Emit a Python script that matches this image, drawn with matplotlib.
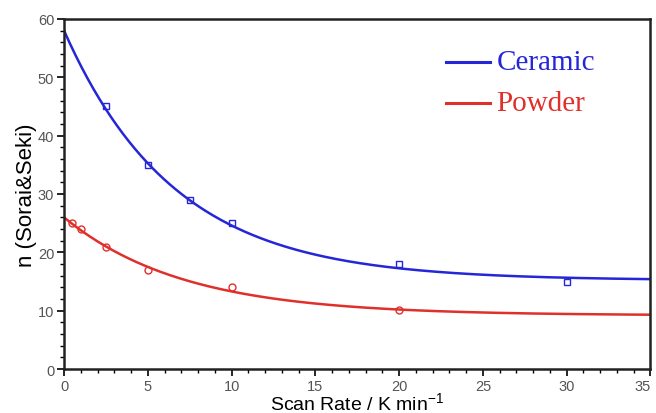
import numpy as np
import matplotlib
matplotlib.use('Agg')
import matplotlib.pyplot as plt
from matplotlib.ticker import MultipleLocator

# ---------- Données ----------
ceramic_x = [2.5, 5, 7.5, 10, 20, 30]
ceramic_y = [45, 35, 29, 25, 18, 15]
powder_x = [0.5, 1, 2.5, 5, 10, 20]
powder_y = [25, 24, 21, 17, 14, 10.2]

# fits exponentiels n = a + b*exp(-x/t)
ceramic_fit = (15.2, 42.8, 6.6)
powder_fit = (9.2, 16.8, 7.1)

blue = "#2626d9"
red = "#e0302c"

def fit_curve(p, x):
    a, b, t = p
    return a + b * np.exp(-x / t)

plt.rcParams['font.family'] = ['Liberation Sans', 'DejaVu Sans']

fig = plt.figure(figsize=(6.56, 4.14), dpi=100)
ax = fig.add_axes([0.0976, 0.106, 0.894, 0.846])

xs = np.linspace(0, 35, 300)
ax.plot(xs, fit_curve(ceramic_fit, xs), color=blue, lw=1.8)
ax.plot(xs, fit_curve(powder_fit, xs), color=red, lw=1.8)
ax.plot(ceramic_x, ceramic_y, 's', ms=5, mfc='none', mec=blue, mew=1.0)
ax.plot(powder_x, powder_y, 'o', ms=5, mfc='none', mec=red, mew=1.0)

ax.set_xlim(0, 35)
ax.set_ylim(0, 60)
ax.set_xticks(np.arange(0, 36, 5))
ax.xaxis.set_minor_locator(MultipleLocator(1))
ax.yaxis.set_major_locator(MultipleLocator(10))
ax.yaxis.set_minor_locator(MultipleLocator(2))
ax.tick_params(which='major', length=5, width=1.2, labelsize=10.5, labelcolor='#555555', pad=2)
ax.tick_params(which='minor', length=3, width=1.0)
for s in ax.spines.values():
    s.set_linewidth(1.8)
    s.set_color('#222222')

# le dernier label (35) touche le bord droit
ax.xaxis.get_major_ticks()[-1].label1.set_horizontalalignment('right')

ax.set_xlabel("Scan Rate / K min$^{\\mathregular{-1}}$", fontsize=14, labelpad=-1)
ax.set_ylabel("n (Sorai&Seki)", fontsize=16, labelpad=1)

# légende manuelle
for yy, label, c in [(52.6, "Ceramic", blue), (45.6, "Powder", red)]:
    ax.plot([22.8, 25.4], [yy, yy], color=c, lw=2.2)
    ax.text(25.8, yy, label, color=c, fontsize=21, family='Liberation Serif', va='center')

fig.savefig("out.png", dpi=100)
